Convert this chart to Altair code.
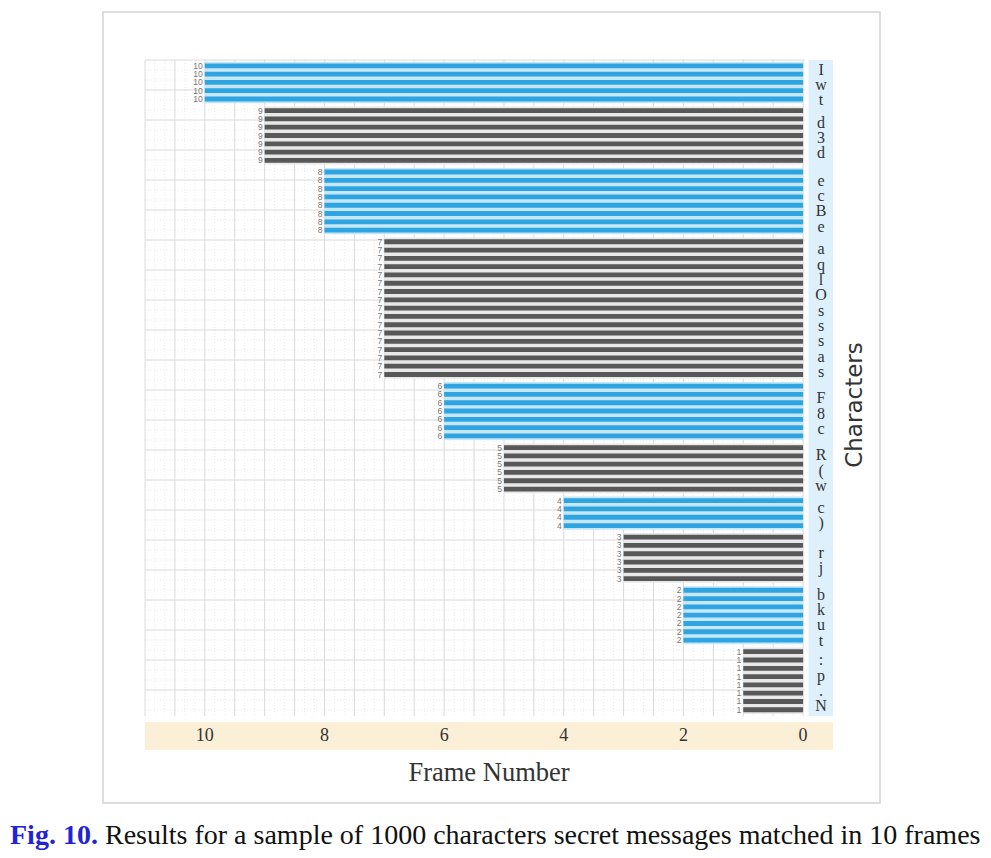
import altair as alt
import pandas as pd
import numpy as np

# ---- data ----
frame_values = [10, 9, 8, 7, 6, 5, 4, 3, 2, 1]          # bar value per group (top to bottom)
bar_counts = [5, 7, 8, 17, 7, 6, 4, 6, 7, 8]             # number of bars in each group
group_chars = [
    ["I", "w", "t"],
    ["d", "3", "d"],
    ["e", "c", "B", "e"],
    ["a", "q", "l", "O", "s", "s", "s", "a", "s"],
    ["F", "8", "c"],
    ["R", "(", "w"],
    ["c", ")"],
    ["r", "j"],
    ["b", "k", "u", "t"],
    [":", "p", ".", "N"],
]
x_ticks = [0, 2, 4, 6, 8, 10]
x_title = "Frame Number"
y_title = "Characters"
caption_fig = "Fig. 10."
caption_text = "Results for a sample of 1000 characters secret messages matched in 10 frames"

# ---- styling ----
BAR_DARK = ["#2ea5e1", "#585858"]
BAR_LIGHT = ["#c6e7f8", "#e8e8e8"]
GAP = 0.4          # extra spacing between groups, in rows
HALF = 0.29        # half bar thickness, in rows
W, H = 688, 656
XDOM = [-0.5, 11]
YDOM = [-0.7, 78.35]
PX_PER_ROW = H / (YDOM[1] - YDOM[0])
PX_PER_X = W / (XDOM[1] - XDOM[0])


def px_x(px):
    """plot-relative pixel -> x data value (x reversed)"""
    return XDOM[1] - px / PX_PER_X


def px_y(px):
    return YDOM[0] + px / PX_PER_ROW


bars, bands, chars = [], [], []
start = 0.0
for g, (v, n) in enumerate(zip(frame_values, bar_counts)):
    pos = [start + i for i in range(n)]
    for p in pos:
        bars.append({"y": p - HALF, "y2": p + HALF, "yc": p, "x": v, "x2": 0,
                     "color": BAR_DARK[g % 2], "label": str(v)})
    bands.append({"y": pos[0] - 0.5, "y2": pos[-1] + 0.5, "x": v, "x2": 0,
                  "color": BAR_LIGHT[g % 2]})
    center = (pos[0] + pos[-1]) / 2 + 0.3
    m = len(group_chars[g])
    for k, ch in enumerate(group_chars[g]):
        chars.append({"y": center + (k - (m - 1) / 2) * 1.85, "x": -0.3, "ch": ch})
    start += n + GAP

bars = pd.DataFrame(bars)
bands = pd.DataFrame(bands)
chars = pd.DataFrame(chars)

xs = alt.Scale(domain=XDOM, reverse=True, nice=False, zero=False)
ys = alt.Scale(domain=YDOM, reverse=True, nice=False, zero=False)


def X(f="x"):
    return alt.X(f"{f}:Q", scale=xs, axis=None)


def Y(f="y"):
    return alt.Y(f"{f}:Q", scale=ys, axis=None)


def box(x, x2, y, y2):
    return pd.DataFrame({"x": [x], "x2": [x2], "y": [y], "y2": [y2]})


def pt(x, y, t):
    return pd.DataFrame({"x": [x], "y": [y], "t": [t]})


# grid
vmaj = pd.DataFrame({"x": np.arange(0, 11.001, 0.5)})
vmaj["y"], vmaj["y2"] = YDOM[0], YDOM[1]
vmin = pd.DataFrame({"x": [v for v in np.arange(0, 11.001, 0.5 / 3)
                           if abs(v * 2 - round(v * 2)) > 1e-6]})
vmin["y"], vmin["y2"] = YDOM[0], YDOM[1]
hpx_maj = np.arange(0, H + 1, 30)
hpx_min = np.array([p for p in np.arange(0, H + 1, 10) if p % 30 != 0])
hmaj = pd.DataFrame({"y": px_y(hpx_maj), "x": 11.0, "x2": -0.03})
hmin = pd.DataFrame({"y": px_y(hpx_min), "x": 11.0, "x2": -0.03})

frame = alt.Chart(box(px_x(-42), px_x(735), px_y(-48), px_y(743))).mark_rect(
    fill="white", stroke="#d4d4d4", strokeWidth=1.5).encode(x=X(), x2="x2:Q", y=Y(), y2="y2:Q")

g_vmin = alt.Chart(vmin).mark_rule(color="#ececec", strokeWidth=1, strokeDash=[1, 2]).encode(
    x=X(), y=Y(), y2="y2:Q")
g_hmin = alt.Chart(hmin).mark_rule(color="#ececec", strokeWidth=1, strokeDash=[1, 2]).encode(
    y=Y(), x=X(), x2="x2:Q")
g_vmaj = alt.Chart(vmaj).mark_rule(color="#dadada", strokeWidth=1).encode(
    x=X(), y=Y(), y2="y2:Q")
g_hmaj = alt.Chart(hmaj).mark_rule(color="#dadada", strokeWidth=1).encode(
    y=Y(), x=X(), x2="x2:Q")

band_layer = alt.Chart(bands).mark_rect().encode(
    x=X(), x2="x2:Q", y=Y(), y2="y2:Q", color=alt.Color("color:N", scale=None))
bar_layer = alt.Chart(bars).mark_rect().encode(
    x=X(), x2="x2:Q", y=Y(), y2="y2:Q", color=alt.Color("color:N", scale=None))
val_labels = alt.Chart(bars).mark_text(align="right", baseline="middle", dx=-2,
                                       font="Liberation Sans", fontSize=8.5, color="#777777").encode(
    x=X(), y=Y("yc"), text="label:N")

right_col = alt.Chart(box(-0.09, -0.5, YDOM[0], YDOM[1])).mark_rect(color="#ddf0fb").encode(
    x=X(), x2="x2:Q", y=Y(), y2="y2:Q")
char_layer = alt.Chart(chars).mark_text(align="center", baseline="middle", font="Liberation Serif",
                                        fontSize=16, color="#333333").encode(
    x=X(), y=Y(), text="ch:N")

orange = alt.Chart(box(11.0, -0.5, 79.07, 82.45)).mark_rect(color="#fcefd7").encode(
    x=X(), x2="x2:Q", y=Y(), y2="y2:Q")
tick_df = pd.DataFrame({"x": x_ticks, "t": [str(v) for v in x_ticks]})
tick_df["y"] = 80.75
ticks = alt.Chart(tick_df).mark_text(
    baseline="middle", font="Liberation Serif", fontSize=18, color="#333333").encode(
    x=X(), y=Y(), text="t:N")

xt = alt.Chart(pt(px_x(344), px_y(713), x_title)).mark_text(
    baseline="middle", font="Liberation Serif", fontSize=26.5, color="#333333").encode(
    x=X(), y=Y(), text="t:N")
yt = alt.Chart(pt(px_x(710), px_y(345), y_title)).mark_text(
    baseline="middle", font="DejaVu Sans", fontSize=23, angle=270, color="#333333").encode(
    x=X(), y=Y(), text="t:N")
cap1 = alt.Chart(pt(px_x(-135), px_y(784), caption_fig)).mark_text(
    align="left", baseline="alphabetic", font="Liberation Serif", fontSize=28,
    fontWeight="bold", color="#2222d6").encode(x=X(), y=Y(), text="t:N")
cap2 = alt.Chart(pt(px_x(-40), px_y(784), caption_text)).mark_text(
    align="left", baseline="alphabetic", font="Liberation Serif", fontSize=28,
    color="#111111").encode(x=X(), y=Y(), text="t:N")

chart = alt.layer(frame, g_vmin, g_hmin, g_vmaj, g_hmaj, band_layer, bar_layer, val_labels,
                  right_col, char_layer, orange, ticks, xt, yt, cap1, cap2).properties(
    width=W, height=H,
    autosize=alt.AutoSizeParams(type="none"),
    padding={"left": 137, "top": 52, "right": 150, "bottom": 134},
).configure_view(strokeWidth=0)

chart.save("out.html", embed_options={"renderer": "svg", "actions": False})
